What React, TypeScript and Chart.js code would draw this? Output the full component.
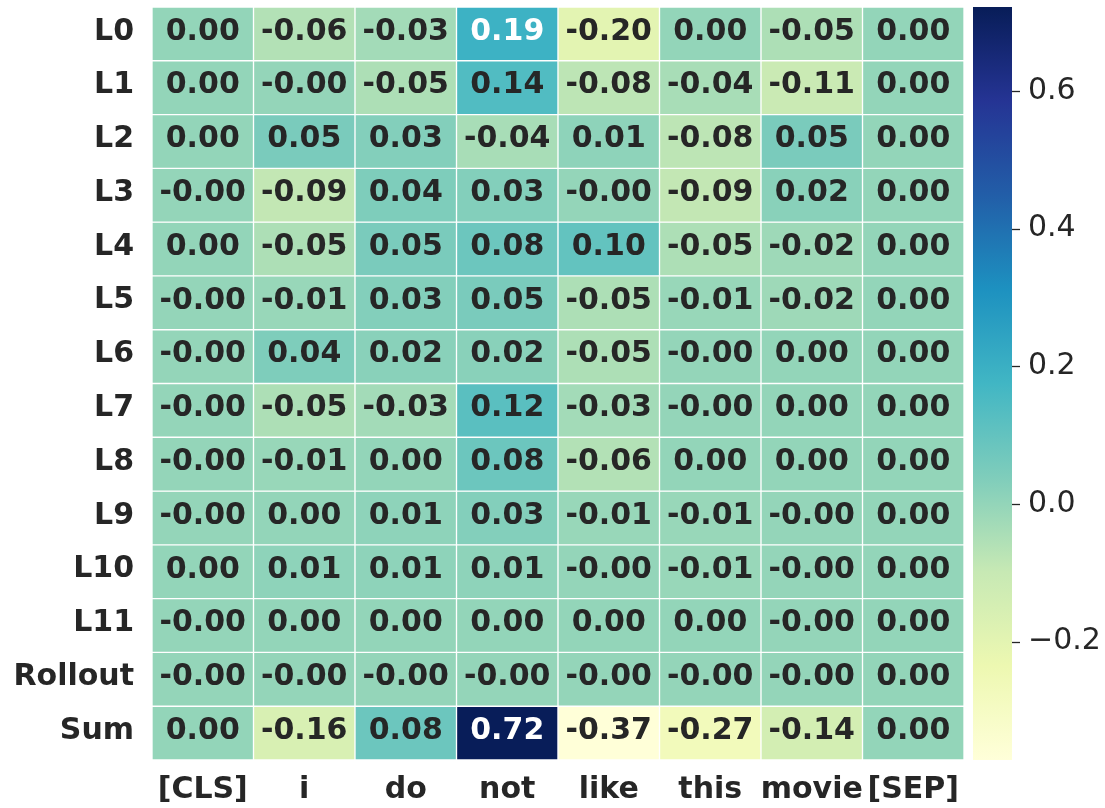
import React, { useEffect, useRef } from 'react';
import { Chart, registerables } from 'chart.js';

Chart.register(...registerables);

// ---------- data ----------
const tokens = ['[CLS]', 'i', 'do', 'not', 'like', 'this', 'movie', '[SEP]'];
const layers = ['L0', 'L1', 'L2', 'L3', 'L4', 'L5', 'L6', 'L7', 'L8', 'L9', 'L10', 'L11', 'Rollout', 'Sum'];

// -0.001 stands for a value shown as "-0.00"
const L0 = [0.0, -0.06, -0.03, 0.19, -0.2, 0.0, -0.05, 0.0];
const L1 = [0.0, -0.001, -0.05, 0.14, -0.08, -0.04, -0.11, 0.0];
const L2 = [0.0, 0.05, 0.03, -0.04, 0.01, -0.08, 0.05, 0.0];
const L3 = [-0.001, -0.09, 0.04, 0.03, -0.001, -0.09, 0.02, 0.0];
const L4 = [0.0, -0.05, 0.05, 0.08, 0.1, -0.05, -0.02, 0.0];
const L5 = [-0.001, -0.01, 0.03, 0.05, -0.05, -0.01, -0.02, 0.0];
const L6 = [-0.001, 0.04, 0.02, 0.02, -0.05, -0.001, 0.0, 0.0];
const L7 = [-0.001, -0.05, -0.03, 0.12, -0.03, -0.001, 0.0, 0.0];
const L8 = [-0.001, -0.01, 0.0, 0.08, -0.06, 0.0, 0.0, 0.0];
const L9 = [-0.001, 0.0, 0.01, 0.03, -0.01, -0.01, -0.001, 0.0];
const L10 = [0.0, 0.01, 0.01, 0.01, -0.001, -0.01, -0.001, 0.0];
const L11 = [-0.001, 0.0, 0.0, 0.0, 0.0, 0.0, -0.001, 0.0];
const Rollout = [-0.001, -0.001, -0.001, -0.001, -0.001, -0.001, -0.001, 0.0];
const Sum = [0.0, -0.16, 0.08, 0.72, -0.37, -0.27, -0.14, 0.0];

const values = [L0, L1, L2, L3, L4, L5, L6, L7, L8, L9, L10, L11, Rollout, Sum];

const vmin = -0.372;
const vmax = 0.722;
const colorbarTicks = [-0.2, 0.0, 0.2, 0.4, 0.6];

// ---------- colormap (YlGnBu) ----------
const stops = ['#ffffd9', '#edf8b1', '#c7e9b4', '#7fcdbb', '#41b6c4', '#1d91c0', '#225ea8', '#253494', '#081d58'];
const hexToRgb = (h: string) => [parseInt(h.slice(1, 3), 16), parseInt(h.slice(3, 5), 16), parseInt(h.slice(5, 7), 16)];
const stopRgb = stops.map(hexToRgb);

function cmapRgb(v: number): number[] {
  let t = (v - vmin) / (vmax - vmin);
  t = Math.max(0, Math.min(1, t));
  const s = t * (stops.length - 1);
  const i = Math.min(stops.length - 2, Math.floor(s));
  const f = s - i;
  const a = stopRgb[i], b = stopRgb[i + 1];
  return [0, 1, 2].map((k) => a[k] + (b[k] - a[k]) * f);
}
const rgbStr = (c: number[]) => `rgb(${Math.round(c[0])},${Math.round(c[1])},${Math.round(c[2])})`;

function textColorFor(v: number) {
  const c = cmapRgb(v).map((x) => {
    const s = x / 255;
    return s <= 0.03928 ? s / 12.92 : Math.pow((s + 0.055) / 1.055, 2.4);
  });
  const lum = 0.2126 * c[0] + 0.7152 * c[1] + 0.0722 * c[2];
  return lum > 0.408 ? '#262626' : '#ffffff';
}

const FONT = '"DejaVu Sans", sans-serif';
const TEXT = '#262626';
const FS = 30;

const noPad = (axis: any) => {
  axis.paddingTop = 0;
  axis.paddingBottom = 0;
  axis.paddingLeft = 0;
  axis.paddingRight = 0;
};

// ---------- plugins ----------
const cellText = {
  id: 'cellText',
  afterDatasetsDraw(chart: any) {
    const ctx = chart.ctx;
    ctx.save();
    ctx.font = `bold ${FS}px ${FONT}`;
    ctx.textAlign = 'center';
    ctx.textBaseline = 'middle';
    chart.data.datasets.forEach((_ds: any, r: number) => {
      const meta = chart.getDatasetMeta(r);
      meta.data.forEach((el: any, c: number) => {
        const v = values[r][c];
        ctx.fillStyle = textColorFor(v);
        ctx.fillText(v.toFixed(2), el.x, (el.y + el.base) / 2 - 2);
      });
    });
    ctx.restore();
  },
};

const colorbar = {
  id: 'colorbar',
  afterDraw(chart: any) {
    const ctx = chart.ctx;
    const cb = chart.scales.cb;
    const x0 = chart.chartArea.right + 9;
    const w = 39;
    const top = cb.getPixelForValue(vmax);
    const bottom = cb.getPixelForValue(vmin);
    const g = ctx.createLinearGradient(0, bottom, 0, top);
    stops.forEach((s, i) => g.addColorStop(i / (stops.length - 1), s));
    ctx.save();
    ctx.fillStyle = g;
    ctx.fillRect(x0, top, w, bottom - top);
    ctx.strokeStyle = TEXT;
    ctx.lineWidth = 1.3;
    colorbarTicks.forEach((v) => {
      const y = Math.round(cb.getPixelForValue(v)) + 0.5;
      ctx.beginPath();
      ctx.moveTo(x0 + w, y);
      ctx.lineTo(x0 + w + 8, y);
      ctx.stroke();
    });
    ctx.restore();
  },
};

export default function App() {
  const ref = useRef<HTMLCanvasElement | null>(null);

  useEffect(() => {
    if (!ref.current) return;
    const datasets = layers.map((name, r) => ({
      label: name,
      data: tokens.map(() => [r, r + 1]),
      backgroundColor: values[r].map((v) => rgbStr(cmapRgb(v))),
      borderColor: '#ffffff',
      borderWidth: 1,
      borderSkipped: false,
      grouped: false,
      barPercentage: 1,
      categoryPercentage: 1,
    }));

    const chart = new Chart(ref.current, {
      type: 'bar',
      data: { labels: tokens, datasets: datasets as any },
      options: {
        responsive: false,
        animation: false,
        devicePixelRatio: 1,
        layout: { autoPadding: false, padding: { top: 7, left: 0, right: 0, bottom: 0 } },
        plugins: {
          legend: { display: false },
          tooltip: { enabled: false },
        },
        scales: {
          x: {
            type: 'category',
            grid: { display: false, drawTicks: false },
            border: { display: false },
            ticks: {
              color: TEXT,
              font: { family: FONT, size: FS, weight: 'bold' },
              padding: 12,
              autoSkip: false,
              maxRotation: 0,
              minRotation: 0,
            },
            afterFit: (axis: any) => {
              axis.height = 48;
              noPad(axis);
            },
          },
          y: {
            type: 'linear',
            position: 'left',
            min: 0,
            max: layers.length,
            reverse: true,
            grid: { display: false, drawTicks: false },
            border: { display: false },
            afterBuildTicks: (axis: any) => {
              axis.ticks = layers.map((_, i) => ({ value: i + 0.46 }));
            },
            ticks: {
              color: TEXT,
              font: { family: FONT, size: FS, weight: 'bold' },
              padding: 18,
              autoSkip: false,
              callback: (v: any) => layers[Math.floor(Number(v))],
            },
            afterFit: (axis: any) => {
              axis.width = 152;
              noPad(axis);
            },
          },
          cb: {
            type: 'linear',
            position: 'right',
            min: vmin,
            max: vmax,
            grid: { display: false, drawTicks: false },
            border: { display: false },
            afterBuildTicks: (axis: any) => {
              axis.ticks = colorbarTicks.map((v) => ({ value: v }));
            },
            ticks: {
              color: TEXT,
              font: { family: FONT, size: FS },
              padding: 64,
              autoSkip: false,
              callback: (v: any) => {
                const n = Number(v);
                const s = Math.abs(n).toFixed(1);
                return n < -1e-9 ? '\u2212' + s : s;
              },
            },
            afterFit: (axis: any) => {
              axis.width = 141;
              noPad(axis);
            },
          },
        } as any,
      },
      plugins: [cellText, colorbar],
    });
    return () => chart.destroy();
  }, []);

  return (
    <div style={{ position: 'absolute', left: 0, top: 0, width: 1105, height: 808, background: '#ffffff' }}>
      <canvas ref={ref} width={1105} height={808} style={{ display: 'block', width: 1105, height: 808 }} />
    </div>
  );
}
